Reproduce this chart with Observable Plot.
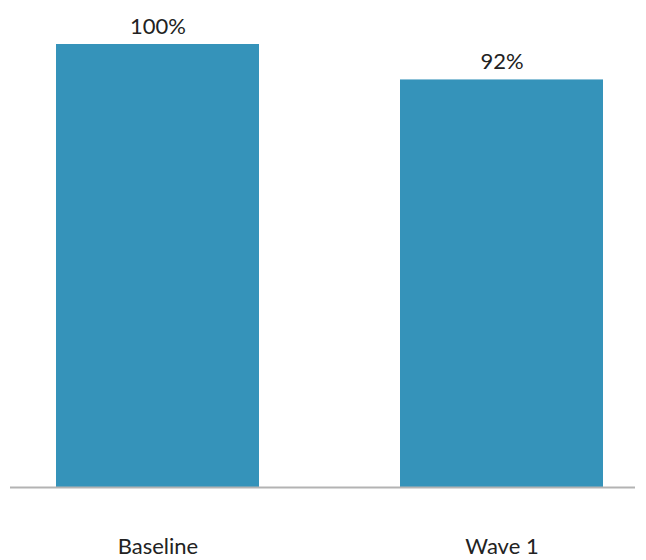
<!DOCTYPE html>
<html><head><meta charset="utf-8">
<script src="https://cdn.jsdelivr.net/npm/d3@7"></script>
<script src="https://cdn.jsdelivr.net/npm/@observablehq/plot@0.6"></script>
<style>body{margin:0;background:#fff;font-family:Lato,"Open Sans",sans-serif;}</style>
</head><body><div id="chart"></div>
<script>
const categories = ["Baseline", "Wave 1"];
const values = [100, 92];
const labels = ["100%", "92%"];
const data = categories.map((c, i) => ({cat: c, value: values[i], label: labels[i]}));
const chart = Plot.plot({
  width: 646, height: 560,
  marginTop: 44, marginBottom: 73, marginLeft: 10, marginRight: 11,
  style: {fontFamily: "Lato, 'Open Sans', sans-serif", fontSize: "22px", background: "#fff"},
  x: {domain: categories, range: [-14.5, 673.5], paddingInner: 0.41, paddingOuter: 0.205, label: null, tickSize: 0, tickPadding: 51},
  y: {domain: [0, 100], axis: null},
  marks: [
    Plot.barY(data, {x: "cat", y: "value", fill: "#3593BA"}),
    Plot.text(data, {x: "cat", y: "value", text: "label", dy: -18, fontSize: 22, fill: "#222"}),
    Plot.ruleY([0], {stroke: "#b3b3b3", strokeWidth: 2})
  ]
});
chart.querySelectorAll("[aria-label='x-axis tick label'] text").forEach(t => t.setAttribute("fill", "#222"));
document.getElementById("chart").append(chart);
</script></body></html>
